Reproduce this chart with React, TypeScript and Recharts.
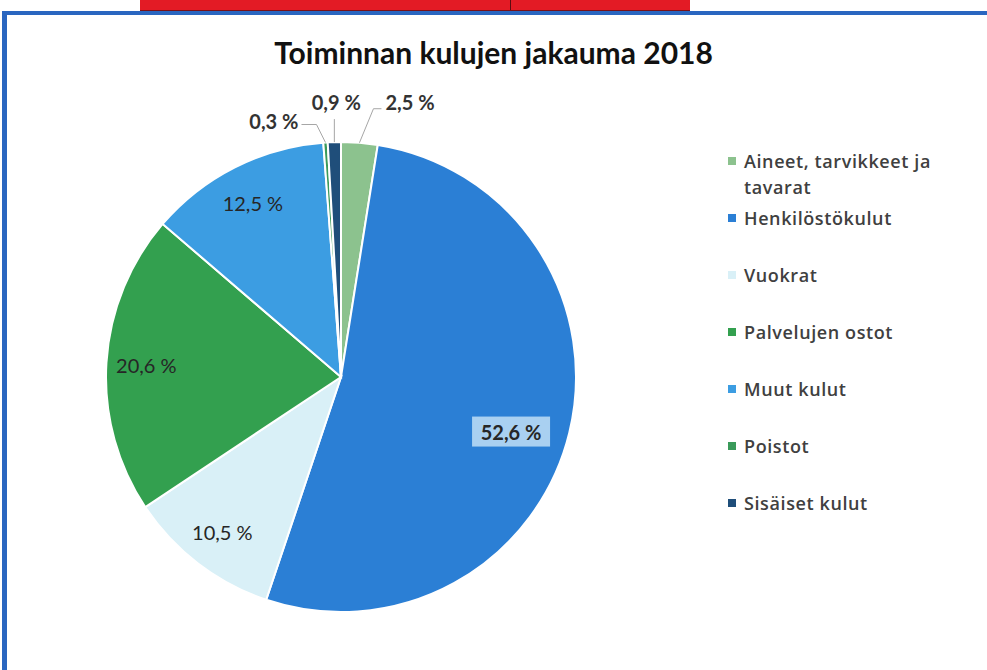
import React from "react";
import { PieChart, Pie, Cell, Legend } from "recharts";

const categories = [
  "Aineet, tarvikkeet ja tavarat",
  "Henkilöstökulut",
  "Vuokrat",
  "Palvelujen ostot",
  "Muut kulut",
  "Poistot",
  "Sisäiset kulut",
];
const shares = [2.5, 52.6, 10.5, 20.6, 12.5, 0.3, 0.9];
const COLORS = ["#8cc28e", "#2b7fd5", "#d9f0f7", "#33a04f", "#3c9de2", "#3a9a5a", "#1f4e7a"];

const data = categories.map((name, i) => ({ name, value: shares[i] }));

const RAD = Math.PI / 180;
const fmt = (v: number) => v.toString().replace(".", ",") + " %";

// elbow placement for the tiny slices near the top
const outside: Record<string, { ex: number; ey: number; hx: number; tx: number; ty: number; anchor: string }> = {
  "Aineet, tarvikkeet ja tavarat": { ex: 14, ey: -34, hx: 22, tx: 26, ty: -41, anchor: "start" },
  "Sisäiset kulut": { ex: 0, ey: -23, hx: 0, tx: 2, ty: -40, anchor: "middle" },
  Poistot: { ex: -9, ey: -18, hx: -24, tx: -27, ty: -22, anchor: "end" },
};

const renderLabel = (props: any) => {
  const { cx, cy, midAngle, outerRadius, value, name } = props;
  if (value < 5) {
    const o = outside[name];
    const x0 = cx + outerRadius * Math.cos(-midAngle * RAD);
    const y0 = cy + outerRadius * Math.sin(-midAngle * RAD);
    return (
      <g>
        <polyline
          points={`${x0},${y0} ${x0 + o.ex},${y0 + o.ey} ${x0 + o.hx},${y0 + o.ey}`}
          fill="none"
          stroke="#a6a6a6"
          strokeWidth={1}
        />
        <text
          x={x0 + o.tx}
          y={y0 + o.ty}
          textAnchor={o.anchor}
          dominantBaseline="central"
          fontFamily="Lato"
          fontWeight={700}
          fontSize={20}
          fill="#333"
        >
          {fmt(value)}
        </text>
      </g>
    );
  }
  const big = value > 50;
  // the big label sits a little lower than the slice midline, like in excel
  const ang = big ? midAngle - 4 : midAngle;
  const r = outerRadius * (big ? 0.76 : 0.83);
  const x = cx + r * Math.cos(-ang * RAD);
  const y = cy + r * Math.sin(-ang * RAD);
  return (
    <g>
      {big && <rect x={x - 39} y={y - 15} width={78} height={30} fill="#a9d0f1" />}
      <text
        x={x}
        y={y}
        textAnchor="middle"
        dominantBaseline="central"
        fontFamily="Lato"
        fontSize={20}
        fontWeight={big ? 700 : 400}
        fill="#262626"
      >
        {fmt(value)}
      </text>
    </g>
  );
};

const renderLegend = () => (
  <div style={{ fontFamily: "Open Sans", fontWeight: 600, fontSize: 18, color: "#404040", letterSpacing: 0.6 }}>
    {categories.map((c, i) => (
      <div key={c} style={{ display: "flex", alignItems: "flex-start", height: 57 }}>
        <span
          style={{
            display: "inline-block",
            width: 8,
            height: 8,
            background: COLORS[i],
            marginTop: 9,
            marginRight: 8,
            flex: "none",
          }}
        />
        <span style={{ lineHeight: "26px", width: 210 }}>{c}</span>
      </div>
    ))}
  </div>
);

export default function App() {
  return (
    <div style={{ position: "absolute", left: 0, top: 0, width: 987, height: 670, background: "#fff", overflow: "hidden" }}>
      <div style={{ position: "absolute", left: 140, top: 0, width: 550, height: 10, background: "#e31b25", borderBottom: "1px solid #7a1016" }} />
      <div style={{ position: "absolute", left: 510, top: 0, width: 1, height: 10, background: "#5a0c10" }} />
      <div style={{ position: "absolute", left: 2, top: 11, width: 985, height: 4, background: "#2a66c0" }} />
      <div style={{ position: "absolute", left: 2, top: 11, width: 5, height: 659, background: "#2a66c0" }} />
      <div
        style={{
          position: "absolute",
          left: 0,
          top: 34,
          width: 987,
          textAlign: "center",
          fontFamily: "Lato",
          fontWeight: 700,
          fontSize: 30,
          color: "#111",
        }}
      >
        Toiminnan kulujen jakauma 2018
      </div>
      <PieChart
        width={987}
        height={670}
        margin={{ top: 0, right: 0, bottom: 0, left: 0 }}
        style={{ position: "absolute", left: 0, top: 0 }}
      >
        <Pie
          data={data}
          dataKey="value"
          nameKey="name"
          cx={341}
          cy={377}
          outerRadius={235}
          startAngle={90}
          endAngle={-270}
          stroke="#fff"
          strokeWidth={2}
          label={renderLabel}
          labelLine={false}
          isAnimationActive={false}
        >
          {data.map((d, i) => (
            <Cell key={d.name} fill={COLORS[i]} />
          ))}
        </Pie>
        <Legend
          layout="vertical"
          align="right"
          verticalAlign="top"
          content={renderLegend}
          wrapperStyle={{ left: 728, top: 148, width: 240 }}
        />
      </PieChart>
    </div>
  );
}
